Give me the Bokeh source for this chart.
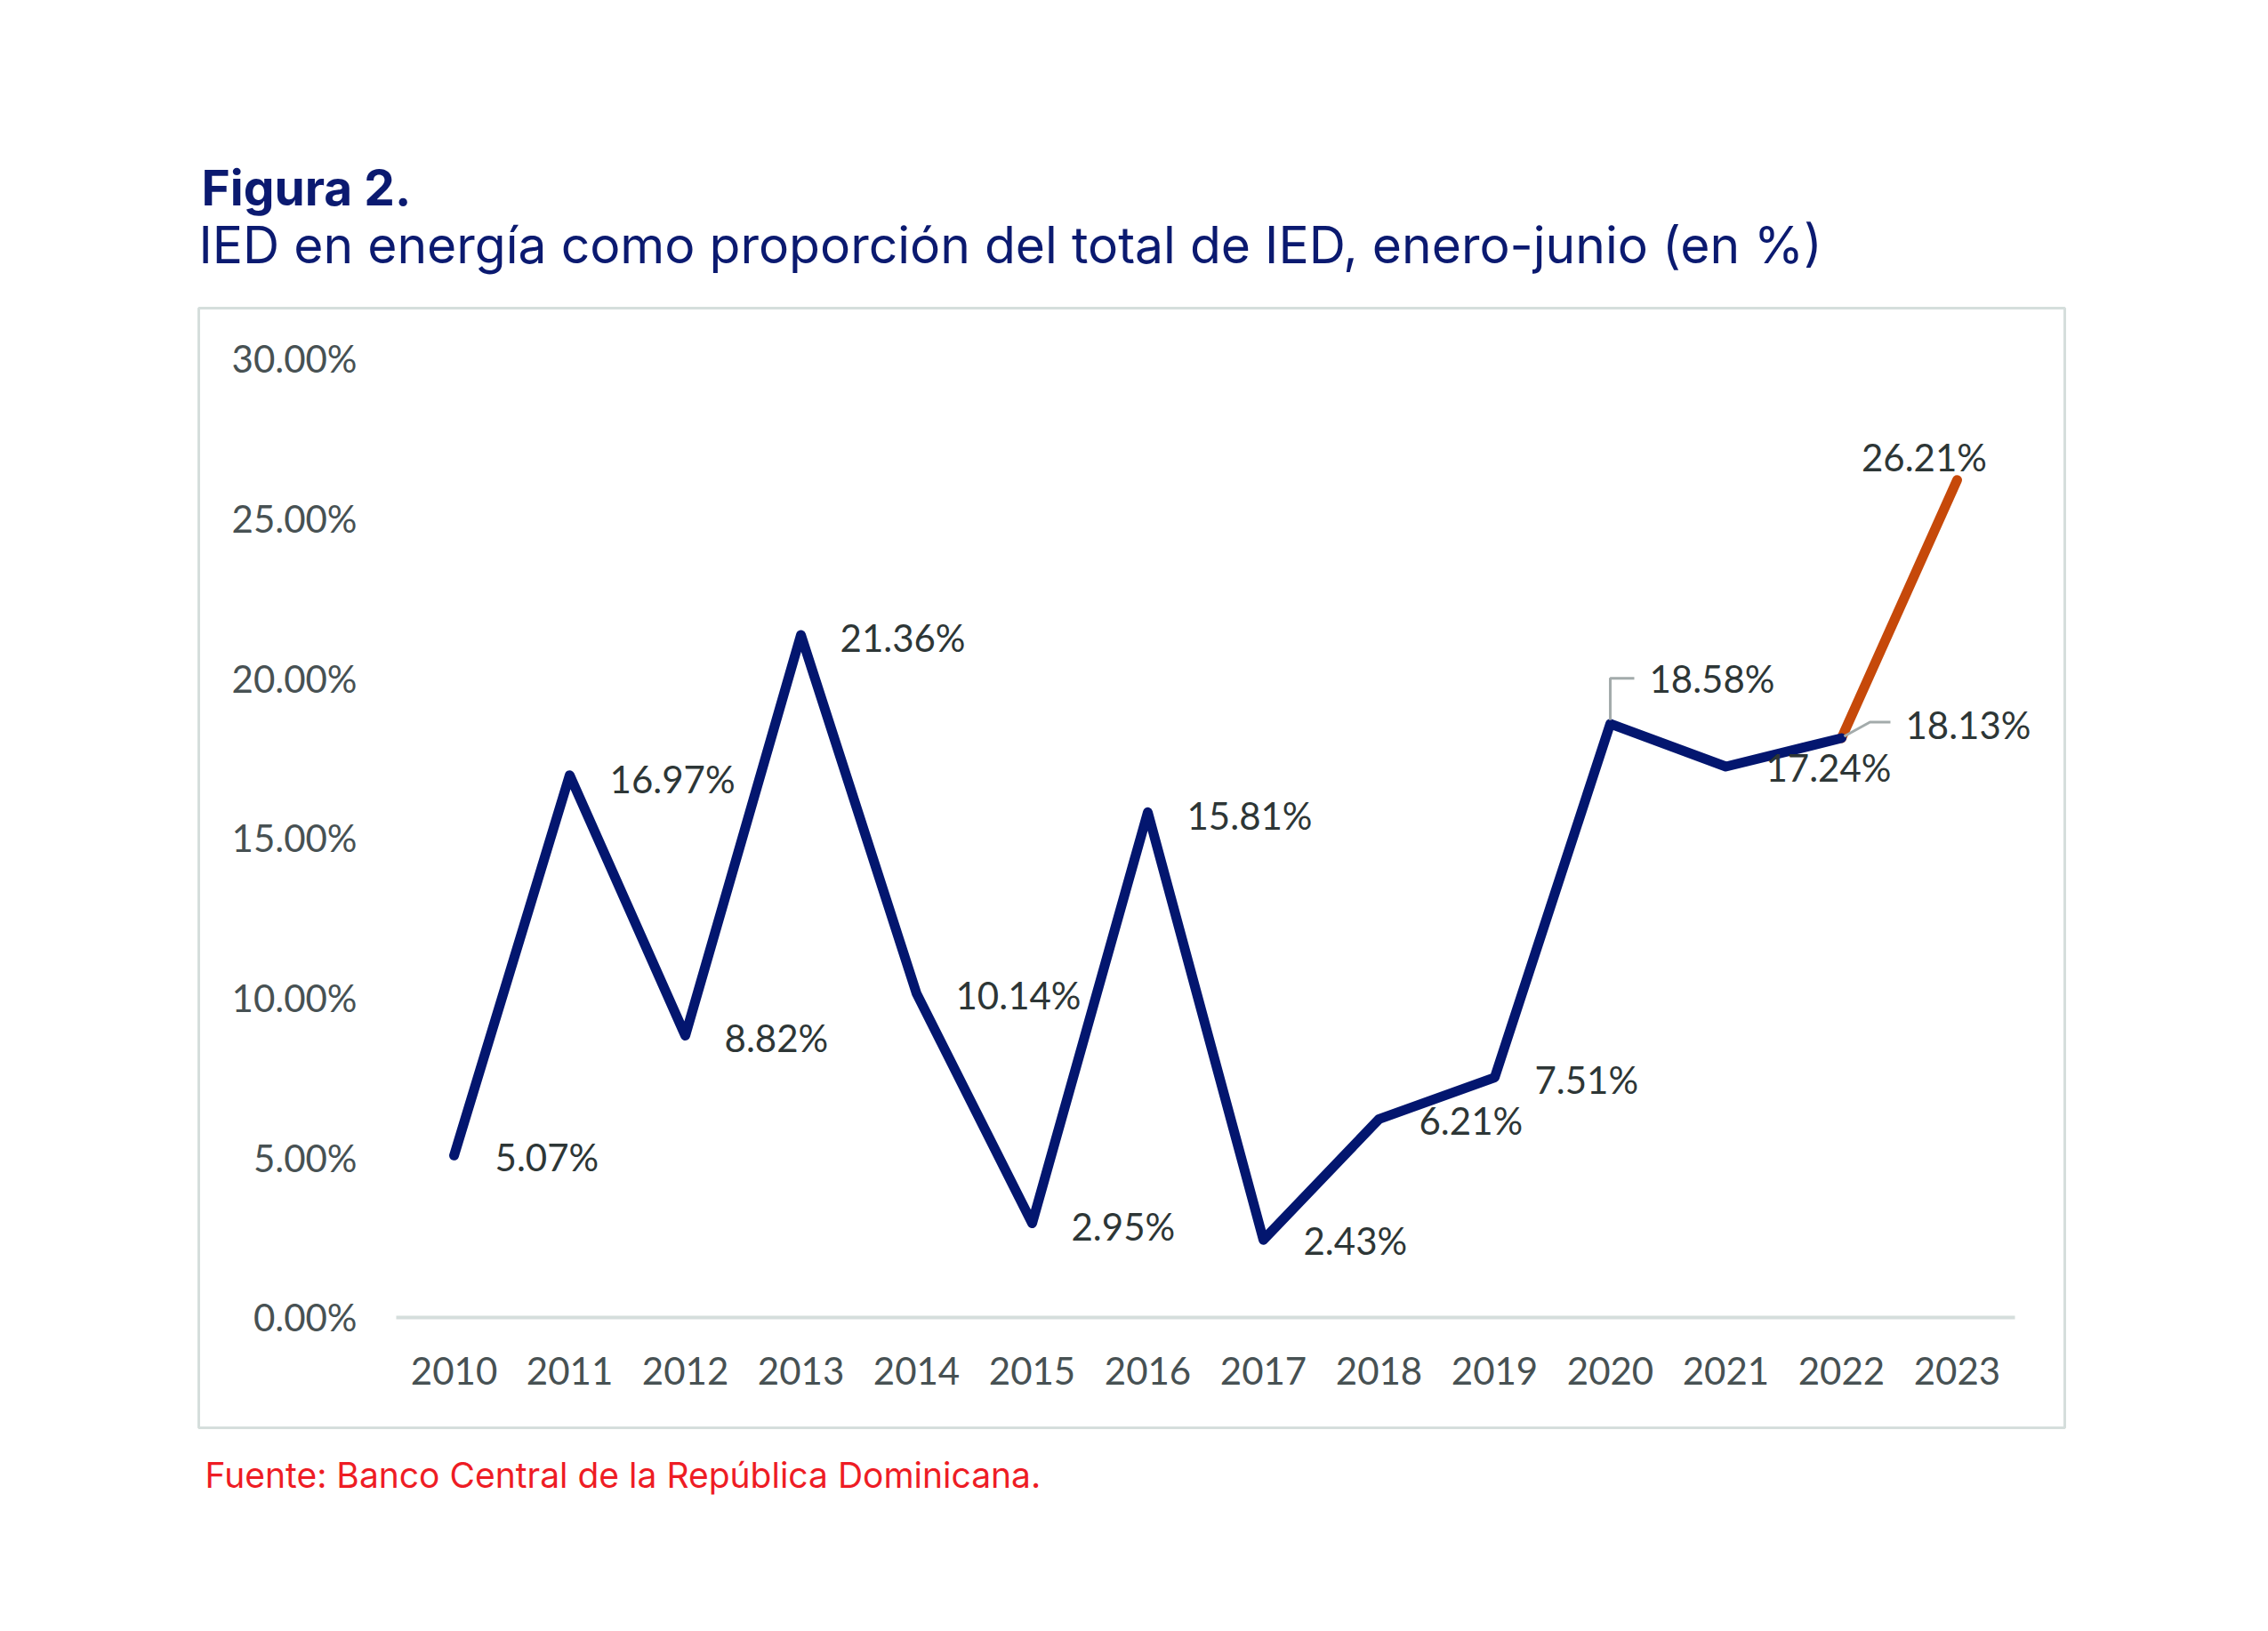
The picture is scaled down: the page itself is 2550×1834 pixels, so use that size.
from bokeh.plotting import figure
from bokeh.models import FixedTicker, ColumnDataSource, LinearAxis, Title
from bokeh.embed import file_html
from bokeh.resources import INLINE
from bokeh.core.properties import value

# ---------------- data ----------------
years = [2010, 2011, 2012, 2013, 2014, 2015, 2016, 2017, 2018, 2019, 2020, 2021, 2022, 2023]
shares = [5.07, 16.97, 8.82, 21.36, 10.14, 2.95, 15.81, 2.43, 6.21, 7.51, 18.58, 17.24, 18.13, 26.21]
share_labels = ["5.07%", "16.97%", "8.82%", "21.36%", "10.14%", "2.95%", "15.81%", "2.43%",
                "6.21%", "7.51%", "18.58%", "17.24%", "18.13%", "26.21%"]
y_ticks = [0, 5, 10, 15, 20, 25, 30]
y_tick_labels = ["0.00%", "5.00%", "10.00%", "15.00%", "20.00%", "25.00%", "30.00%"]
x_tick_labels = [str(y) for y in years]

title_text = "Figura 2."
subtitle_text = "IED en energía como proporción del total de IED, enero-junio (en %)"
source_text = "Fuente: Banco Central de la República Dominicana."

# ---------------- style / layout ----------------
W, H = 2545, 1830
FL, FR, FT, FB = 223, 2321, 346, 1605      # chart box (= plot frame)
NAVY = "#03166f"
ORANGE = "#c6490a"
TITLE_COLOR = "#0b1a70"
LABEL_COLOR = "#2d3636"
TICK_COLOR = "#475153"
FRAME_GRAY = "#d5dedc"
LEADER = "#a3abab"
LABEL_FONT = "Lato"
TITLE_FONT = "Inter"
FS = "42px"

# range chosen so the category slots sit inside the box like the original
pad_x_left, pad_x_right = 2.208, 0.931
pad_y_bottom, pad_y_top = 3.451, 1.586
x0, x1 = years[0] - pad_x_left, years[-1] + pad_x_right
y0, y1 = y_ticks[0] - pad_y_bottom, y_ticks[-1] + pad_y_top
px_per_x = (FR - FL) / (x1 - x0)
px_per_y = (FB - FT) / (y1 - y0)

p = figure(width=W, height=H, x_range=(x0, x1), y_range=(y0, y1),
           output_backend="svg", toolbar_location=None,
           x_axis_location=None, y_axis_location=None,
           min_border_left=FL, min_border_right=W - FR,
           min_border_top=FT, min_border_bottom=H - FB)
p.background_fill_color = "white"
p.border_fill_color = "white"
p.outline_line_color = FRAME_GRAY
p.outline_line_width = 3
p.grid.visible = False

# titles
p.title.text = title_text
p.title.align = "left"
p.title.offset = 3
p.title.text_font = TITLE_FONT
p.title.text_font_style = "bold"
p.title.text_font_size = "55px"
p.title.text_color = TITLE_COLOR
p.title.standoff = -83
p.add_layout(Title(text=subtitle_text, align="left", offset=0, text_font=TITLE_FONT,
                   text_font_style="normal", text_font_size="57px", text_color=TITLE_COLOR,
                   text_line_height=0.6, standoff=73), "above")
p.add_layout(Title(text=source_text, align="left", offset=7, text_font=TITLE_FONT,
                   text_font_style="normal", text_font_size="39px", text_color="#ee1c24",
                   standoff=55), "below")

# axes
xa = LinearAxis(ticker=FixedTicker(ticks=years), fixed_location=y_ticks[0],
                bounds=(years[0] - 0.5, years[-1] + 0.5))
xa.major_label_overrides = {y: l for y, l in zip(years, x_tick_labels)}
xa.axis_line_color = FRAME_GRAY
xa.axis_line_width = 4
xa.major_tick_line_color = None
xa.minor_tick_line_color = None
xa.major_label_text_font = LABEL_FONT
xa.major_label_text_font_size = FS
xa.major_label_text_color = TICK_COLOR
xa.major_label_standoff = 39
p.add_layout(xa, "below")

ya = LinearAxis(ticker=FixedTicker(ticks=y_ticks), fixed_location=years[0] - 0.5)
ya.major_label_overrides = {t: l for t, l in zip(y_ticks, y_tick_labels)}
ya.axis_line_color = None
ya.major_tick_line_color = None
ya.minor_tick_line_color = None
ya.major_label_text_font = LABEL_FONT
ya.major_label_text_font_size = FS
ya.major_label_text_color = TICK_COLOR
ya.major_label_standoff = 38
p.add_layout(ya, "left")

# lines
p.line(years[12:], shares[12:], line_color=ORANGE, line_width=11, line_cap="round", line_join="round")
p.line(years[:13], shares[:13], line_color=NAVY, line_width=11, line_cap="round", line_join="round")

# leader lines (pixel offsets converted through the scale)
def lead(i, pts):
    return ([years[i] + dx / px_per_x for dx, dy in pts],
            [shares[i] + dy / px_per_y for dx, dy in pts])

l1 = lead(10, [(0, 4), (0, 51), (27, 51)])
l2 = lead(12, [(3, 2), (32, 18), (55, 18)])
p.multi_line([l1[0], l2[0]], [l1[1], l2[1]], line_color=LEADER, line_width=3)

# data labels
x_off = [46, 45, 44, 44, 44, 44, 44, 45, 45, 45, 44, 45, 72, -37]
y_off = [2, 4, 2, 3, 2, 4, 4, 1, 2, 2, -51, 1, -15, -26]
align = ["left"] * 13 + ["center"]
src = ColumnDataSource(dict(x=years, y=shares, t=share_labels, xo=x_off, yo=y_off, al=align))
p.text(x="x", y="y", text="t", x_offset="xo", y_offset="yo", text_align="al",
       text_baseline="middle", text_font=value(LABEL_FONT), text_font_size=FS,
       text_color=LABEL_COLOR, source=src)

open("out.html", "w").write(file_html(p, INLINE))
